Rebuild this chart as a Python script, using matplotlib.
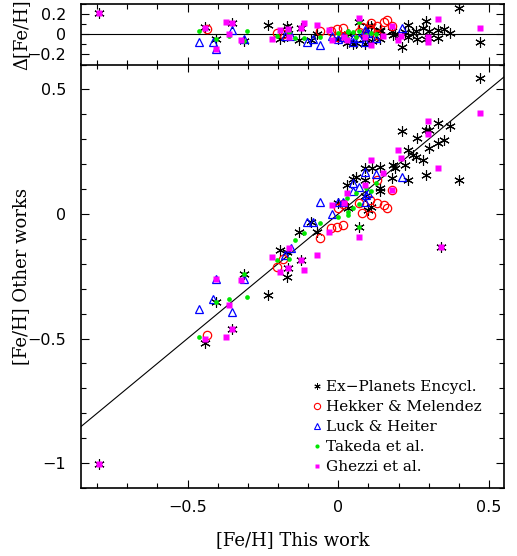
import numpy as np
import matplotlib
matplotlib.use("Agg")
import matplotlib.pyplot as plt
from matplotlib.lines import Line2D
from matplotlib.ticker import MultipleLocator, FuncFormatter

# [Fe/H] from this work (x) versus literature values (y), one pair of arrays per source
expl_this = np.array([0.470, 0.331, 0.371, 0.210, 0.291, 0.301, 0.260, 0.330, 0.351, 0.301,
                      0.230, 0.249, 0.258, 0.280, 0.221, 0.183, 0.190, 0.291, 0.179, 0.230,
                      0.401, 0.138, 0.138, 0.138, 0.089, 0.113, 0.089, 0.089, 0.058, 0.048,
                      0.030, 0.000, 0.031, 0.100, 0.109, -0.072, -0.131, -0.194, -0.171, -0.166,
                      -0.171, -0.091, -0.232, -0.441, -0.352, -0.404, -0.313, 0.069, 0.340, -0.794,
                      -0.123])
expl_other = np.array([0.544, 0.365, 0.355, 0.334, 0.337, 0.337, 0.305, 0.286, 0.295, 0.264,
                       0.255, 0.236, 0.228, 0.216, 0.198, 0.195, 0.186, 0.155, 0.146, 0.136,
                       0.136, 0.187, 0.105, 0.092, 0.184, 0.184, 0.137, 0.072, 0.148, 0.140,
                       0.115, 0.045, 0.025, 0.015, 0.028, -0.073, -0.074, -0.146, -0.153, -0.215,
                       -0.255, -0.032, -0.325, -0.517, -0.462, -0.353, -0.242, -0.052, -0.134, -1.003,
                       -0.186])

hekker_this = np.array([-0.434, -0.204, -0.182, -0.061, -0.025, -0.005, 0.017, 0.000, 0.017,
                        0.069, 0.105, 0.129, 0.152, 0.163, 0.078, 0.109, 0.180, 0.129])
hekker_other = np.array([-0.485, -0.212, -0.182, -0.095, -0.058, -0.053, -0.046, 0.025, 0.041,
                         0.045, 0.055, 0.045, 0.035, 0.025, 0.003, -0.005, 0.096, 0.136])

luck_this = np.array([-0.463, -0.415, -0.404, -0.352, -0.313, -0.155, -0.178, -0.105, -0.083,
                      -0.061, -0.022, 0.000, 0.017, 0.048, 0.050, 0.069, 0.089, 0.127,
                      0.092, 0.089, 0.100, 0.210])
luck_other = np.array([-0.382, -0.342, -0.262, -0.392, -0.262, -0.138, -0.165, -0.033, -0.033,
                       0.050, 0.000, 0.048, 0.048, 0.125, 0.092, 0.107, 0.168, 0.160,
                       0.076, 0.048, 0.085, 0.148])

takeda_this = np.array([-0.463, -0.404, -0.363, -0.313, -0.302, -0.204, -0.162, -0.144, -0.113,
                        -0.061, 0.000, 0.030, 0.031, 0.031, 0.050, 0.069, 0.059, 0.091,
                        0.108, 0.127, 0.069])
takeda_other = np.array([-0.494, -0.353, -0.343, -0.242, -0.334, -0.186, -0.182, -0.104, -0.075,
                         -0.035, -0.012, 0.065, 0.008, -0.004, 0.025, 0.041, 0.085, 0.103,
                         0.094, 0.125, -0.052])

ghezzi_this = np.array([-0.794, -0.441, -0.373, -0.352, -0.363, -0.404, -0.322, -0.221, -0.194,
                        -0.166, -0.163, -0.123, -0.113, -0.072, -0.030, 0.069, 0.340, -0.022,
                        0.020, 0.030, 0.089, 0.109, 0.149, 0.180, 0.199, 0.209, 0.299,
                        0.299, 0.330, 0.470])
ghezzi_other = np.array([-1.003, -0.502, -0.494, -0.462, -0.366, -0.262, -0.266, -0.172, -0.233,
                         -0.215, -0.135, -0.186, -0.226, -0.164, -0.072, -0.092, -0.134, 0.036,
                         0.045, 0.086, 0.115, 0.215, 0.163, 0.096, 0.255, 0.224, 0.375,
                         0.323, 0.183, 0.404])

labels = ["Ex\u2212Planets Encycl.", "Hekker & Melendez", "Luck & Heiter",
          "Takeda et al.", "Ghezzi et al."]

series = [
    (expl_this, expl_other, dict(marker=(6, 2, 0), ms=7.5, color="black", mew=0.8, ls="none")),
    (hekker_this, hekker_other, dict(marker="o", ms=6.0, mfc="none", mec="#ff0000", mew=0.9, ls="none")),
    (luck_this, luck_other, dict(marker="^", ms=6.0, mfc="none", mec="#0000ff", mew=0.9, ls="none")),
    (takeda_this, takeda_other, dict(marker="o", ms=3.4, color="#00e800", mec="none", ls="none")),
    (ghezzi_this, ghezzi_other, dict(marker="s", ms=3.7, color="#ff00ff", mec="none", ls="none")),
]

W, H = 517, 556
fig = plt.figure(figsize=(W / 100, H / 100), dpi=100)
left, width = 80.5 / W, 423.5 / W
ax = fig.add_axes([left, 1 - 488 / H, width, (488 - 64.5) / H])
axd = fig.add_axes([left, 1 - 64.5 / H, width, (64.5 - 4) / H], sharex=ax)

serif = "DejaVu Serif"


def fmt(v, pos):
    v = round(v, 3)
    if v == 0:
        return "0"
    return f"{v:g}".replace("-", "\u2212")


for a in (ax, axd):
    a.tick_params(which="both", direction="in", top=True, right=True, width=0.8)
    a.tick_params(which="major", length=6)
    a.tick_params(which="minor", length=3.3)
    for s in a.spines.values():
        s.set_linewidth(1.2)
    a.yaxis.set_major_formatter(FuncFormatter(fmt))
    a.xaxis.set_major_formatter(FuncFormatter(fmt))
    a.tick_params(axis="y", pad=10.5, labelsize=11.5)
    a.tick_params(axis="x", pad=8.5, labelsize=11.5)

# main comparison panel
for (xs, ys, style) in series:
    ax.plot(xs, ys, **style)
ax.axline((0, 0), slope=1, color="black", lw=0.8, zorder=0)
ax.set_xlim(-0.855, 0.55)
ax.set_ylim(-1.1, 0.6)
ax.xaxis.set_major_locator(MultipleLocator(0.5))
ax.xaxis.set_minor_locator(MultipleLocator(0.1))
ax.yaxis.set_major_locator(MultipleLocator(0.5))
ax.yaxis.set_minor_locator(MultipleLocator(0.1))
ax.set_xlabel("[Fe/H] This work", family=serif, fontsize=13)
ax.set_ylabel("[Fe/H] Other works", family=serif, fontsize=13)
ax.xaxis.set_label_coords(0.5, -0.101)
ax.yaxis.set_label_coords(-0.118, 0.5)

# residual panel: this work minus other works
for (xs, ys, style) in series:
    axd.plot(xs, xs - ys, **style)
axd.axhline(0, color="black", lw=0.8, zorder=0)
axd.set_ylim(-0.3, 0.3)
axd.yaxis.set_major_locator(MultipleLocator(0.2))
axd.yaxis.set_minor_locator(MultipleLocator(0.1))
axd.tick_params(axis="x", labelbottom=False)
axd.set_ylabel("\u0394[Fe/H]", family=serif, fontsize=13)
axd.yaxis.set_label_coords(-0.118, 0.5)

for a in (ax, axd):
    for lab in a.get_xticklabels() + a.get_yticklabels():
        lab.set_family("DejaVu Sans")

# legend with reduced markers
handles = [
    Line2D([], [], marker=(6, 2, 0), ms=4.5, color="black", mew=0.7, ls="none"),
    Line2D([], [], marker="o", ms=4.5, mfc="none", mec="#ff0000", mew=0.8, ls="none"),
    Line2D([], [], marker="^", ms=4.5, mfc="none", mec="#0000ff", mew=0.8, ls="none"),
    Line2D([], [], marker="o", ms=3.0, color="#00e800", mec="none", ls="none"),
    Line2D([], [], marker="s", ms=3.2, color="#ff00ff", mec="none", ls="none"),
]
ax.legend(handles, labels, loc="upper left",
          bbox_to_anchor=(312 / W, 1 - 380 / H), bbox_transform=fig.transFigure,
          frameon=False, prop=dict(family=serif, size=11),
          handlelength=0.6, handletextpad=0.3, labelspacing=0.4,
          borderpad=0, borderaxespad=0)

fig.savefig("out.png", dpi=100)
